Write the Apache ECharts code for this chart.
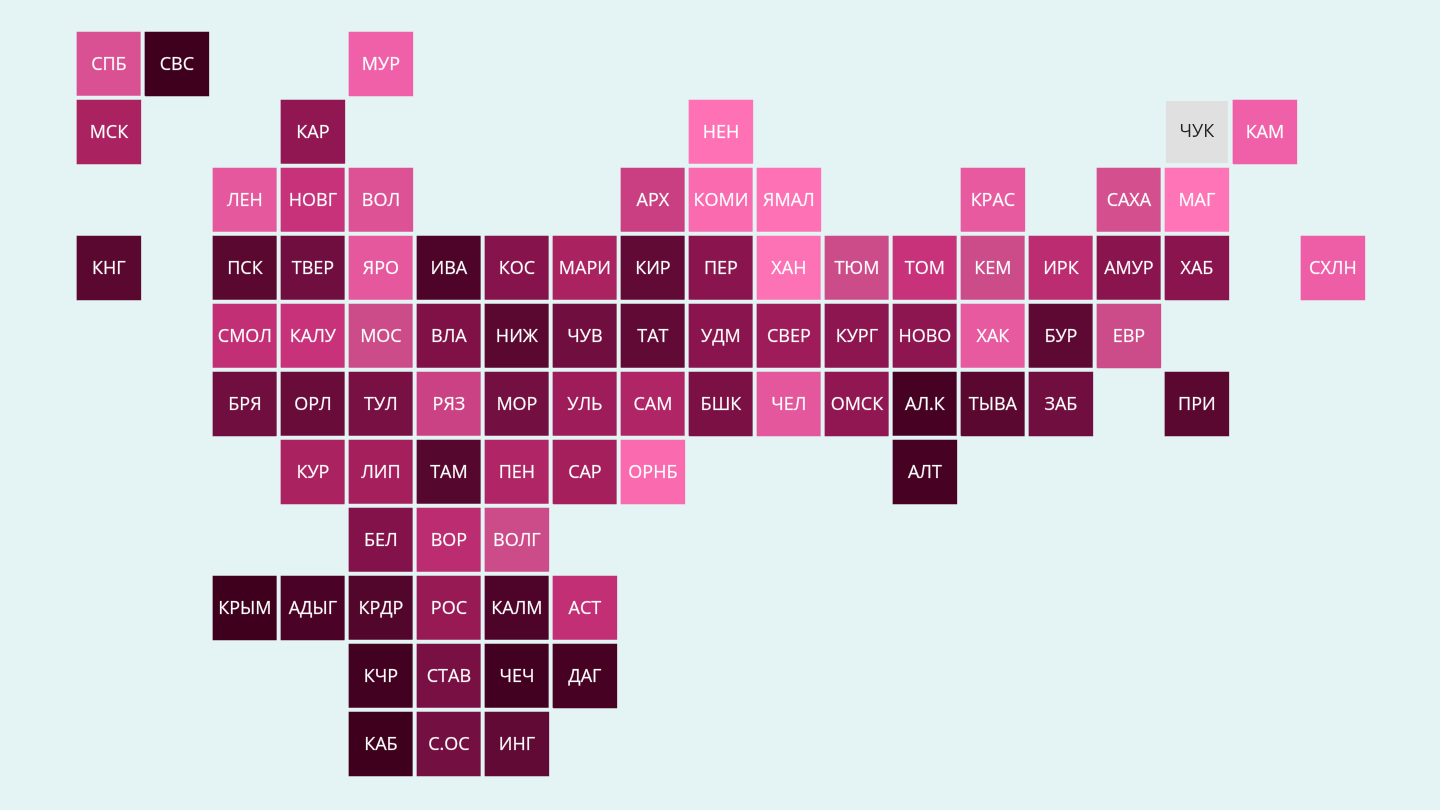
<!DOCTYPE html>
<html><head><meta charset="utf-8">
<style>html,body{margin:0;padding:0;background:#e4f3f4}#c{width:1440px;height:810px}</style>
<script src="https://cdn.jsdelivr.net/npm/echarts@6/dist/echarts.min.js"></script>
</head><body><div id="c"></div>
<script>
const regions = ['СПБ','СВС','МУР','МСК','КАР','НЕН','КАМ','ЛЕН','НОВГ','ВОЛ','АРХ','КОМИ','ЯМАЛ','КРАС','САХА','МАГ',
'КНГ','ПСК','ТВЕР','ЯРО','ИВА','КОС','МАРИ','КИР','ПЕР','ХАН','ТЮМ','ТОМ','КЕМ','ИРК','АМУР','ХАБ','СХЛН',
'СМОЛ','КАЛУ','МОС','ВЛА','НИЖ','ЧУВ','ТАТ','УДМ','СВЕР','КУРГ','НОВО','ХАК','БУР','ЕВР',
'БРЯ','ОРЛ','ТУЛ','РЯЗ','МОР','УЛЬ','САМ','БШК','ЧЕЛ','ОМСК','АЛ.К','ТЫВА','ЗАБ','ПРИ',
'КУР','ЛИП','ТАМ','ПЕН','САР','ОРНБ','АЛТ','БЕЛ','ВОР','ВОЛГ',
'КРЫМ','АДЫГ','КРДР','РОС','КАЛМ','АСТ','КЧР','СТАВ','ЧЕЧ','ДАГ','КАБ','С.ОС','ИНГ'];
const cols = [0,1,4,0,3,9,17,2,3,4,8,9,10,13,15,16,
0,2,3,4,5,6,7,8,9,10,11,12,13,14,15,16,18,
2,3,4,5,6,7,8,9,10,11,12,13,14,15,
2,3,4,5,6,7,8,9,10,11,12,13,14,16,
3,4,5,6,7,8,12,4,5,6,
2,3,4,5,6,7,4,5,6,7,4,5,6];
const rows = [0,0,0,1,1,1,1,2,2,2,2,2,2,2,2,2,
3,3,3,3,3,3,3,3,3,3,3,3,3,3,3,3,3,
4,4,4,4,4,4,4,4,4,4,4,4,4,4,
5,5,5,5,5,5,5,5,5,5,5,5,5,5,
6,6,6,6,6,6,6,7,7,7,
8,8,8,8,8,8,9,9,9,9,10,10,10];
const values = [40,100,20,70,78,2,20,30,60,38,55,10,2,28,45,0,
93,93,87,30,96,81,70,91,80,3,50,60,50,64,80,80,22,
62,60,50,83,93,87,91,80,74,79,79,28,92,50,
87,89,85,54,86,74,68,84,32,78,98,93,87,93,
70,72,94,68,72,10,98,82,64,50,
100,97,95,76,96,62,99,85,99,98,100,86,91];
// region without data, drawn grey
const noDataRegions = ['ЧУК'];
const noDataCols = [16];
const noDataRows = [1];
const ramp = ['#ff74b7','#f96aaf','#f060a8','#e6589e','#da5193','#cc4c89','#c8327a','#aa2260','#8a144e','#650b38','#3f001e'];
const bg = '#e4f3f4';
const noDataColor = '#e0e0e0';

const data = regions.map((name,i)=>({name, value:[cols[i],rows[i],values[i]]}));
const noData = noDataRegions.map((name,i)=>({name, value:[noDataCols[i],noDataRows[i],0]}));
const nums = n=>Array.from({length:n},(_,i)=>i);
const chart = echarts.init(document.getElementById('c'),null,{renderer:'canvas'});
chart.setOption({
  backgroundColor:bg,
  animation:false,
  grid:{left:74.9,top:29.9,width:19*68,height:11*68},
  xAxis:{type:'category',data:nums(19),show:false,splitArea:{show:false}},
  yAxis:{type:'category',data:nums(11),inverse:true,show:false,splitArea:{show:false}},
  visualMap:{show:false,min:0,max:100,dimension:2,seriesIndex:0,inRange:{color:ramp}},
  series:[{
    type:'heatmap',
    data,
    itemStyle:{borderColor:bg,borderWidth:4},
    label:{show:true,formatter:p=>p.name,color:'#ffffff',offset:[0,0.6],
      fontFamily:'"Open Sans"',fontSize:18,
      textBorderColor:'rgba(255,255,255,0.3)',textBorderWidth:0.6},
    emphasis:{disabled:true}
  },{
    type:'custom',
    data:noData,
    encode:{x:0,y:1},
    renderItem:(params,api)=>{
      const c=api.coord([api.value(0),api.value(1)]);
      const s=api.size([1,1]);
      return {type:'rect',
        shape:{x:c[0]-s[0]/2+3,y:c[1]-s[1]/2+3,width:s[0]-6,height:s[1]-6},
        style:{fill:noDataColor},
        textContent:{type:'text',style:{text:noDataRegions[params.dataIndex],fill:'#222222',
          font:'18px "Open Sans"'}},
        textConfig:{position:'inside'}};
    },
    emphasis:{disabled:true}
  }]
});
</script></body></html>
